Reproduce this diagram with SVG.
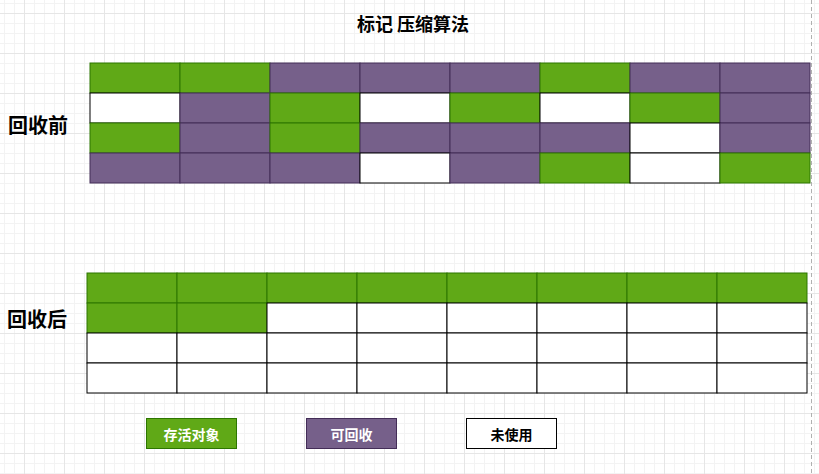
<svg xmlns="http://www.w3.org/2000/svg" width="819" height="474" viewBox="0 0 819 474">
<defs>
<pattern id="minor" width="10" height="10" x="4" y="3" patternUnits="userSpaceOnUse">
<path d="M0 0.5H10M0.5 0V10" fill="none" stroke="#f3f3f3" stroke-width="1"/>
</pattern>
<pattern id="major" width="40" height="40" x="24" y="13" patternUnits="userSpaceOnUse">
<path d="M0 0.5H40M0.5 0V40" fill="none" stroke="#e6e6e6" stroke-width="1"/>
</pattern>
</defs>
<style>
.g{fill:#60a917;stroke:#2d7600;stroke-width:1}
.p{fill:#76608a;stroke:#432d57;stroke-width:1}
.w{fill:#ffffff;stroke:#000000;stroke-width:1}
.t{font-family:"Noto Sans CJK SC","Liberation Sans",sans-serif;font-weight:bold}
.lbl{font-size:20px;fill:#000}
.leg{font-size:14px;text-anchor:middle;dominant-baseline:central}
</style>
<rect width="819" height="474" fill="#ffffff"/>
<rect width="819" height="474" fill="url(#minor)"/>
<rect width="819" height="474" fill="url(#major)"/>
<line x1="811.5" y1="0" x2="811.5" y2="474" stroke="#b0b0b0" stroke-width="1" stroke-dasharray="4 3"/>

<g id="title"><text class="t" x="413" y="31" font-size="18" text-anchor="middle">标记 压缩算法</text></g>
<g id="label-before"><text class="t lbl" x="8" y="133">回收前</text></g>
<g id="label-after"><text class="t lbl" x="7" y="327">回收后</text></g>

<g id="grid-before">
<rect class="g" x="90" y="63" width="90" height="30"/>
<rect class="g" x="180" y="63" width="90" height="30"/>
<rect class="p" x="270" y="63" width="90" height="30"/>
<rect class="p" x="360" y="63" width="90" height="30"/>
<rect class="p" x="450" y="63" width="90" height="30"/>
<rect class="g" x="540" y="63" width="90" height="30"/>
<rect class="p" x="630" y="63" width="90" height="30"/>
<rect class="p" x="720" y="63" width="90" height="30"/>

<rect class="w" x="90" y="93" width="90" height="30"/>
<rect class="p" x="180" y="93" width="90" height="30"/>
<rect class="g" x="270" y="93" width="90" height="30"/>
<rect class="w" x="360" y="93" width="90" height="30"/>
<rect class="g" x="450" y="93" width="90" height="30"/>
<rect class="w" x="540" y="93" width="90" height="30"/>
<rect class="g" x="630" y="93" width="90" height="30"/>
<rect class="p" x="720" y="93" width="90" height="30"/>

<rect class="g" x="90" y="123" width="90" height="30"/>
<rect class="p" x="180" y="123" width="90" height="30"/>
<rect class="g" x="270" y="123" width="90" height="30"/>
<rect class="p" x="360" y="123" width="90" height="30"/>
<rect class="p" x="450" y="123" width="90" height="30"/>
<rect class="p" x="540" y="123" width="90" height="30"/>
<rect class="w" x="630" y="123" width="90" height="30"/>
<rect class="p" x="720" y="123" width="90" height="30"/>

<rect class="p" x="90" y="153" width="90" height="30"/>
<rect class="p" x="180" y="153" width="90" height="30"/>
<rect class="p" x="270" y="153" width="90" height="30"/>
<rect class="w" x="360" y="153" width="90" height="30"/>
<rect class="p" x="450" y="153" width="90" height="30"/>
<rect class="g" x="540" y="153" width="90" height="30"/>
<rect class="w" x="630" y="153" width="90" height="30"/>
<rect class="g" x="720" y="153" width="90" height="30"/>
</g>

<g id="grid-after">
<rect class="g" x="87" y="273" width="90" height="30"/>
<rect class="g" x="177" y="273" width="90" height="30"/>
<rect class="g" x="267" y="273" width="90" height="30"/>
<rect class="g" x="357" y="273" width="90" height="30"/>
<rect class="g" x="447" y="273" width="90" height="30"/>
<rect class="g" x="537" y="273" width="90" height="30"/>
<rect class="g" x="627" y="273" width="90" height="30"/>
<rect class="g" x="717" y="273" width="90" height="30"/>

<rect class="g" x="87" y="303" width="90" height="30"/>
<rect class="g" x="177" y="303" width="90" height="30"/>
<rect class="w" x="267" y="303" width="90" height="30"/>
<rect class="w" x="357" y="303" width="90" height="30"/>
<rect class="w" x="447" y="303" width="90" height="30"/>
<rect class="w" x="537" y="303" width="90" height="30"/>
<rect class="w" x="627" y="303" width="90" height="30"/>
<rect class="w" x="717" y="303" width="90" height="30"/>

<rect class="w" x="87" y="333" width="90" height="30"/>
<rect class="w" x="177" y="333" width="90" height="30"/>
<rect class="w" x="267" y="333" width="90" height="30"/>
<rect class="w" x="357" y="333" width="90" height="30"/>
<rect class="w" x="447" y="333" width="90" height="30"/>
<rect class="w" x="537" y="333" width="90" height="30"/>
<rect class="w" x="627" y="333" width="90" height="30"/>
<rect class="w" x="717" y="333" width="90" height="30"/>

<rect class="w" x="87" y="363" width="90" height="30"/>
<rect class="w" x="177" y="363" width="90" height="30"/>
<rect class="w" x="267" y="363" width="90" height="30"/>
<rect class="w" x="357" y="363" width="90" height="30"/>
<rect class="w" x="447" y="363" width="90" height="30"/>
<rect class="w" x="537" y="363" width="90" height="30"/>
<rect class="w" x="627" y="363" width="90" height="30"/>
<rect class="w" x="717" y="363" width="90" height="30"/>
</g>

<g id="legend-live">
<rect class="g" x="146.5" y="418.5" width="90" height="30"/>
<text class="t leg" x="191.5" y="433.5" fill="#ffffff">存活对象</text>
</g>
<g id="legend-reclaim">
<rect class="p" x="306.5" y="418.5" width="90" height="30"/>
<text class="t leg" x="351.5" y="433.5" fill="#ffffff">可回收</text>
</g>
<g id="legend-unused">
<rect class="w" x="466.5" y="418.5" width="90" height="30"/>
<text class="t leg" x="511.5" y="433.5" fill="#000000">未使用</text>
</g>
</svg>
